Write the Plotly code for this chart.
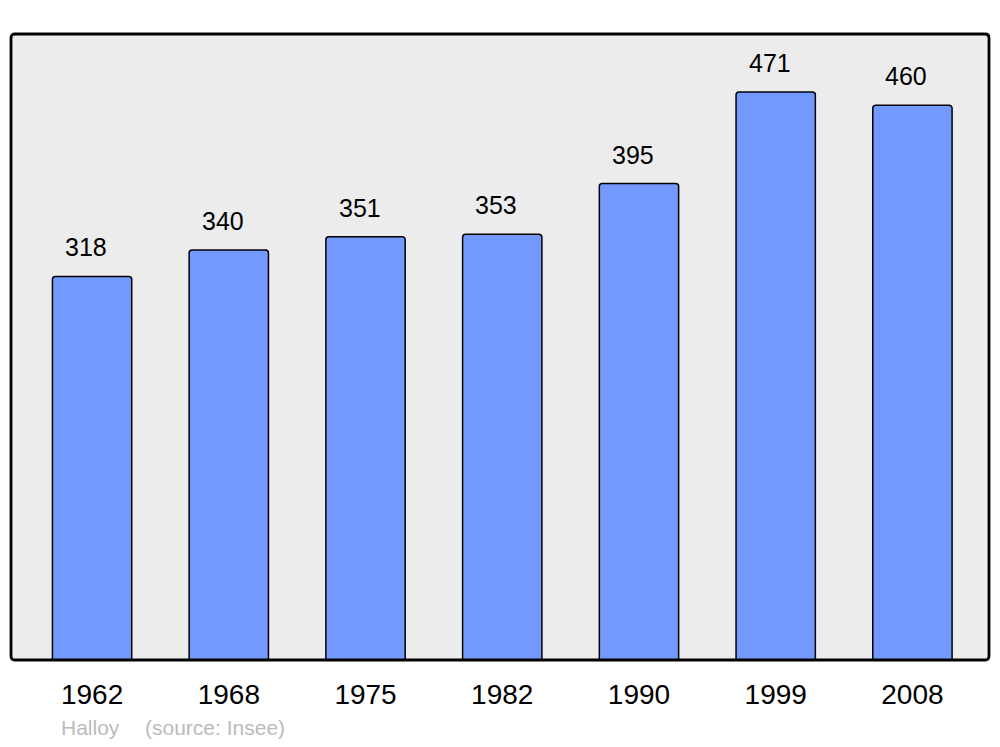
import plotly.graph_objects as go

years = ["1962", "1968", "1975", "1982", "1990", "1999", "2008"]
population = [318, 340, 351, 353, 395, 471, 460]
commune = "Halloy"
source = "(source: Insee)"

# the page body adds an 8px offset at left/top; compensate
OFF = 8
W, H = 1000 - OFF, 747 - OFF
ml, mr, mt, mb = 11 - OFF, 11, 34 - OFF, 87
FONT = "Liberation Sans, Arial, sans-serif"

fig = go.Figure()
fig.add_trace(go.Bar(
    x=list(range(len(years))), y=population,
    width=0.58,
    marker=dict(color="#7399ff", line=dict(color="black", width=1.5), cornerradius=3),
    hoverinfo="skip",
))

for i, v in enumerate(population):
    fig.add_annotation(x=i, y=v, text=str(v), showarrow=False,
                       yanchor="bottom", yshift=13, xshift=-6,
                       font=dict(size=25, color="black", family=FONT))

# rounded frame around plot area
pw, ph = W - ml - mr, H - mt - mb
rx, ry = 4 / pw, 4 / ph
path = (f"M {rx},0 L {1-rx},0 Q 1,0 1,{ry} L 1,{1-ry} Q 1,1 {1-rx},1 "
        f"L {rx},1 Q 0,1 0,{1-ry} L 0,{ry} Q 0,0 {rx},0 Z")
fig.add_shape(type="path", xref="paper", yref="paper", path=path,
              line=dict(color="black", width=2.8), layer="above")

fig.add_annotation(xref="paper", yref="paper", x=(59 - 11) / pw, y=0, yshift=-81,
                   xanchor="left", yanchor="bottom", showarrow=False,
                   text=commune, font=dict(size=21, color="#bbbbbb", family=FONT))
fig.add_annotation(xref="paper", yref="paper", x=(143 - 11) / pw, y=0, yshift=-81,
                   xanchor="left", yanchor="bottom", showarrow=False,
                   text=source, font=dict(size=21, color="#bbbbbb", family=FONT))

fig.update_layout(
    width=W, height=H,
    margin=dict(l=ml, r=mr, t=mt, b=mb),
    paper_bgcolor="white", plot_bgcolor="#ececec",
    showlegend=False,
    font=dict(family=FONT, color="black"),
)
fig.update_xaxes(range=[-0.593, 6.56], tickmode="array",
                 tickvals=list(range(len(years))), ticktext=years,
                 showgrid=False, zeroline=False, showline=False,
                 tickfont=dict(size=28), ticklabelstandoff=15)
fig.update_yaxes(range=[0, 519], showgrid=False, zeroline=False,
                 showticklabels=False, showline=False)

fig.write_html("out.html")
